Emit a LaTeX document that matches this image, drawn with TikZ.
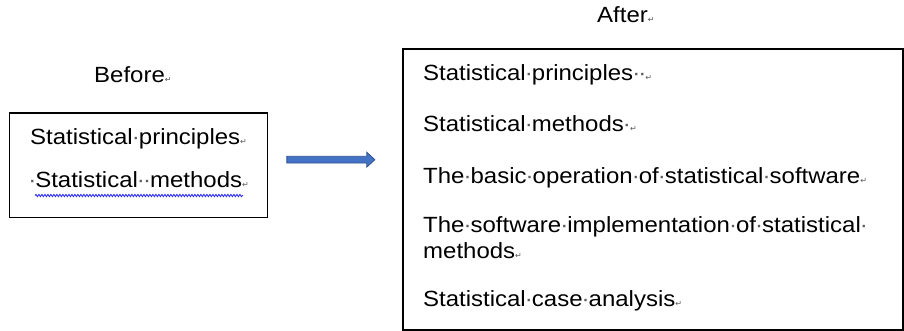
\documentclass[tikz,border=0pt]{standalone}
\usepackage{fontspec}
\setmainfont{Liberation Sans}[FakeStretch=1.09]
\newfontfamily\markfont{DejaVu Sans}
\usetikzlibrary{shapes.arrows,decorations.pathmorphing}

\definecolor{markgray}{HTML}{5A5A5A}
\definecolor{arrowfill}{HTML}{4472C4}
\definecolor{arrowline}{HTML}{2F528F}
\definecolor{spellblue}{HTML}{2F2FF0}

% editing marks: a centred dot for each space, a small return arrow at paragraph end
\newcommand\wsp{\makebox[0.278em]{\textcolor{markgray}{·}}}
\newcommand\pmark{{\markfont\fontsize{8}{8}\selectfont\textcolor{markgray}{↵}}}

\begin{document}
\begin{tikzpicture}[x=1pt,y=-1pt,
  frame/.style={draw=black, line width=1.6pt, inner sep=0pt, anchor=north west},
  item/.style={anchor=base west, inner sep=0pt, font=\fontsize{22}{26}\selectfont},
  blockarrow/.style={single arrow, fill=arrowfill, draw=arrowline, line width=0.8pt,
    text height=0pt, text depth=0pt, inner xsep=0pt, inner ysep=3pt,
    minimum height=88pt, minimum width=0pt, single arrow head extend=4pt,
    single arrow tip angle=85, single arrow head indent=0pt},
  spell/.style={draw=spellblue, line width=0.9pt,
    decorate, decoration={snake, amplitude=1.1pt, segment length=3pt}}]
  \useasboundingbox (0,0) rectangle (904,331);

  % headings
  \node[item] (hbefore) at (94,83) {Before\pmark};
  \node[item] (hafter) at (597,23) {After\pmark};

  % the two boxes
  \node[frame, minimum width=258pt, minimum height=104pt] (before) at (8.5,112.5) {};
  \node[frame, minimum width=500pt, minimum height=281pt] (after) at (402,48) {};

  % contents of the left box
  \node[item] (b1) at (30,145) {Statistical\wsp principles\pmark};
  \node[item] (b2) at (29,188) {\wsp Statistical\wsp\wsp methods\pmark};
  \coordinate (sq1) at (35,195.5);
  \coordinate (sq2) at (243,195.5);
  \draw[spell] (sq1) -- (sq2);

  % contents of the right box
  \node[item] (a1) at (423,81) {Statistical\wsp principles\wsp\wsp\pmark};
  \node[item] (a2) at (423,132) {Statistical\wsp methods\wsp\pmark};
  \node[item] (a3) at (423,183) {The\wsp basic\wsp operation\wsp of\wsp statistical\wsp software\pmark};
  \node[item] (a4) at (423,232) {The\wsp software\wsp implementation\wsp of\wsp statistical\wsp};
  \node[item] (a4b) at (423,258) {methods\pmark};
  \node[item] (a5) at (423,306) {Statistical\wsp case\wsp analysis\pmark};

  % transition arrow
  \node[blockarrow] (trans) at (329,159.7) {};
\end{tikzpicture}
\end{document}
